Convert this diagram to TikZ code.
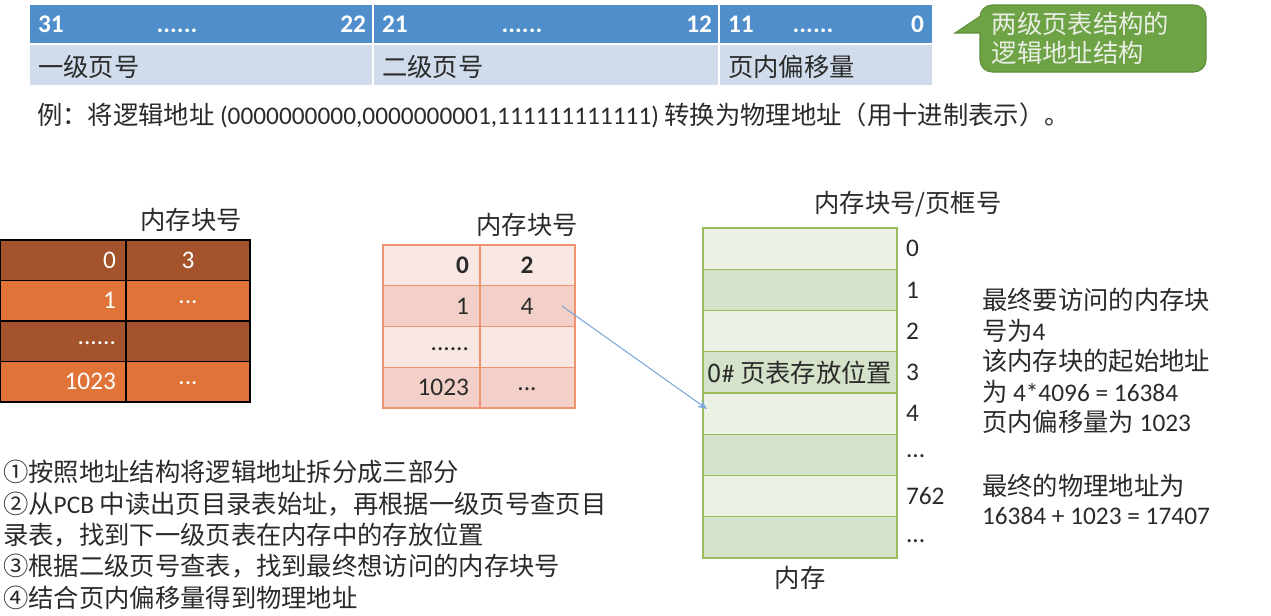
\documentclass[tikz,border=0pt]{standalone}
\usepackage{fontspec}
\setmainfont{Noto Sans CJK SC}
\newfontfamily\lat{Carlito}
\newcommand\la[1]{{\lat #1}}
\usetikzlibrary{arrows.meta}
\definecolor{hdrblue}{HTML}{4F8DCB}
\definecolor{rowblue}{HTML}{D0DCEB}
\definecolor{callg}{HTML}{6DA245}
\definecolor{callgd}{HTML}{5E8F3C}
\definecolor{calltxt}{HTML}{E9EFE4}
\definecolor{brdark}{HTML}{A4542C}
\definecolor{brlight}{HTML}{E07337}
\definecolor{pklight}{HTML}{F9E7E3}
\definecolor{pkmed}{HTML}{F2D0C7}
\definecolor{pkbord}{HTML}{EE9470}
\definecolor{gnlight}{HTML}{EBF1E5}
\definecolor{gndark}{HTML}{D5E2CA}
\definecolor{gnbord}{HTML}{9CBB5C}
\definecolor{arrblue}{HTML}{7DA7D9}
\definecolor{txt}{HTML}{2A2A2A}
\begin{document}
\begin{tikzpicture}[x=0.75pt,y=-0.75pt,
  every node/.style={font=\fontsize{19}{22}\selectfont, text=txt, inner sep=0pt, outer sep=0pt},
  hcell/.style={fill=hdrblue, minimum height=28.5pt},
  rcell/.style={fill=rowblue, minimum height=30pt},
  htext/.style={text=white, font=\fontsize{19}{22}\lat\bfseries, anchor=base},
  lcell/.style={draw=black, line width=0.8pt, minimum height=30.375pt},
  wtext/.style={text=white, font=\fontsize{19}{22}\lat},
  pcell/.style={draw=pkbord, line width=1pt, minimum height=30.56pt},
  ptext/.style={font=\fontsize{19}{22}\lat},
  mcell/.style={draw=gnbord, line width=1pt, minimum width=145.5pt, minimum height=30.94pt},
  plain/.style={align=left, anchor=west}
]
\useasboundingbox (0,0) rectangle (1271,615);

% ---- logical address structure bar
\node[hcell, minimum width=256.5pt] (h1) at (201,24) {};
\node[hcell, minimum width=258pt]   (h2) at (546,24) {};
\node[hcell, minimum width=159pt]   (h3) at (826,24) {};
\node[rcell, minimum width=256.5pt] (r1) at (201,65) {};
\node[rcell, minimum width=258pt]   (r2) at (546,65) {};
\node[rcell, minimum width=159pt]   (r3) at (826,65) {};
\node[htext, anchor=base west] (t31) at (38,32) {31};
\node[htext] (td1) at (177,32) {......};
\node[htext, anchor=base east] (t22) at (366,32) {22};
\node[htext, anchor=base west] (t21) at (382,32) {21};
\node[htext] (td2) at (522,32) {......};
\node[htext, anchor=base east] (t12) at (712,32) {12};
\node[htext, anchor=base west] (t11) at (728,32) {11};
\node[htext] (td3) at (813,32) {......};
\node[htext, anchor=base east] (t0) at (924,32) {0};
\node[plain] (n1) at (38,67) {一级页号};
\node[plain] (n2) at (382,67) {二级页号};
\node[plain] (n3) at (728,67) {页内偏移量};

% ---- callout
\node[fill=callg, draw=callgd, line width=0.8pt, rounded corners=9pt,
      minimum width=169.5pt, minimum height=50.25pt, text width=152pt,
      align=left, text=calltxt, font=\fontsize{19}{21.5}\selectfont] (cb) at (1093,38.5)
      {两级页表结构的\\逻辑地址结构};
\fill[callg] (981.5,16) -- (955,33) -- (981.5,33) -- cycle;
\draw[callgd, line width=0.8pt] (980.5,16) -- (955,33) -- (980.5,33);

% ---- example line
\node[plain] (ex) at (37,115) {例：将逻辑地址 \la{(0000000000,0000000001,111111111111)} 转换为物理地址（用十进制表示）。};

% ---- left table (page directory)
\node (lh) at (191,220) {内存块号};
\node[lcell, fill=brdark,  minimum width=94.5pt] (l00) at (63,260.25) {};
\node[lcell, fill=brdark,  minimum width=93pt]   (l01) at (188,260.25) {};
\node[lcell, fill=brlight, minimum width=94.5pt] (l10) at (63,300.75) {};
\node[lcell, fill=brlight, minimum width=93pt]   (l11) at (188,300.75) {};
\node[lcell, fill=brdark,  minimum width=94.5pt] (l20) at (63,341.25) {};
\node[lcell, fill=brdark,  minimum width=93pt]   (l21) at (188,341.25) {};
\node[lcell, fill=brlight, minimum width=94.5pt] (l30) at (63,381.75) {};
\node[lcell, fill=brlight, minimum width=93pt]   (l31) at (188,381.75) {};
\node[wtext, anchor=east] (lt0) at (116,260.25) {0};
\node[wtext] (lt0b) at (188,260.25) {3};
\node[wtext, anchor=east] (lt1) at (116,300.75) {1};
\node[wtext] (lt1b) at (188,302) {...};
\node[wtext, anchor=east] (lt2) at (116,343) {......};
\node[wtext, anchor=east] (lt3) at (116,381.75) {1023};
\node[wtext] (lt3b) at (188,383) {...};

% ---- middle table (second level page table)
\node (mh) at (527,225) {内存块号};
\node[pcell, fill=pklight, minimum width=72.75pt] (p00) at (431.5,265.4) {};
\node[pcell, fill=pklight, minimum width=71.25pt] (p01) at (527.5,265.4) {};
\node[pcell, fill=pkmed,   minimum width=72.75pt] (p10) at (431.5,306.1) {};
\node[pcell, fill=pkmed,   minimum width=71.25pt] (p11) at (527.5,306.1) {};
\node[pcell, fill=pklight, minimum width=72.75pt] (p20) at (431.5,346.9) {};
\node[pcell, fill=pklight, minimum width=71.25pt] (p21) at (527.5,346.9) {};
\node[pcell, fill=pkmed,   minimum width=72.75pt] (p30) at (431.5,387.6) {};
\node[pcell, fill=pkmed,   minimum width=71.25pt] (p31) at (527.5,387.6) {};
\node[ptext, font=\fontsize{19}{22}\lat\bfseries, anchor=east] (pt0) at (469,265.4) {0};
\node[ptext, font=\fontsize{19}{22}\lat\bfseries] (pt0b) at (527,265.4) {2};
\node[ptext, anchor=east] (pt1) at (469,306.1) {1};
\node[ptext] (pt1b) at (527,306.1) {4};
\node[ptext, anchor=east] (pt2) at (469,349) {......};
\node[ptext, anchor=east] (pt3) at (469,387.6) {1023};
\node[ptext] (pt3b) at (527,389) {...};
\coordinate (a1) at (562,306);

% ---- memory
\node (memh) at (908,204) {内存块号/页框号};
\node[mcell, fill=gnlight] (m0) at (800,248.6) {};
\node[mcell, fill=gndark]  (m1) at (800,289.9) {};
\node[mcell, fill=gnlight] (m2) at (800,331.1) {};
\node[mcell, fill=gndark]  (m3) at (800,372.4) {0\la{\#} 页表存放位置};
\node[mcell, fill=gnlight] (m4) at (800,413.6) {};
\node[mcell, fill=gndark]  (m5) at (800,454.9) {};
\node[mcell, fill=gnlight] (m6) at (800,496.1) {};
\node[mcell, fill=gndark]  (m7) at (800,537.4) {};
\node (meml) at (800,578) {内存};
\node[ptext, anchor=west] (ml0) at (906,248.6) {0};
\node[ptext, anchor=west] (ml1) at (906,289.9) {1};
\node[ptext, anchor=west] (ml2) at (906,331.1) {2};
\node[ptext, anchor=west] (ml3) at (906,372.4) {3};
\node[ptext, anchor=west] (ml4) at (906,413.6) {4};
\node[ptext, anchor=west] (ml5) at (906,456) {...};
\node[ptext, anchor=west] (ml6) at (906,496.1) {762};
\node[ptext, anchor=west] (ml7) at (906,541) {...};
\coordinate (a2) at (707,409);

\draw[arrblue, line width=0.8pt, -{Stealth[length=7pt,width=6pt]}] (a1) -- (a2);

% ---- explanation on the right
\node[plain, font=\fontsize{19}{22.9}\selectfont] (rt1) at (982,361) {最终要访问的内存块\\号为\la{4}\\该内存块的起始地址\\为 \la{4*4096 = 16384}\\页内偏移量为 \la{1023}};
\node[plain, font=\fontsize{19}{21.75}\selectfont] (rt2) at (982,499.5) {最终的物理地址为\\\la{16384 + 1023 = 17407}};

% ---- steps
\node[plain, font=\fontsize{19}{23.5}\selectfont] (steps) at (3,535) {①按照地址结构将逻辑地址拆分成三部分\\②从\la{PCB} 中读出页目录表始址，再根据一级页号查页目\\录表，找到下一级页表在内存中的存放位置\\③根据二级页号查表，找到最终想访问的内存块号\\④结合页内偏移量得到物理地址};
\end{tikzpicture}
\end{document}
